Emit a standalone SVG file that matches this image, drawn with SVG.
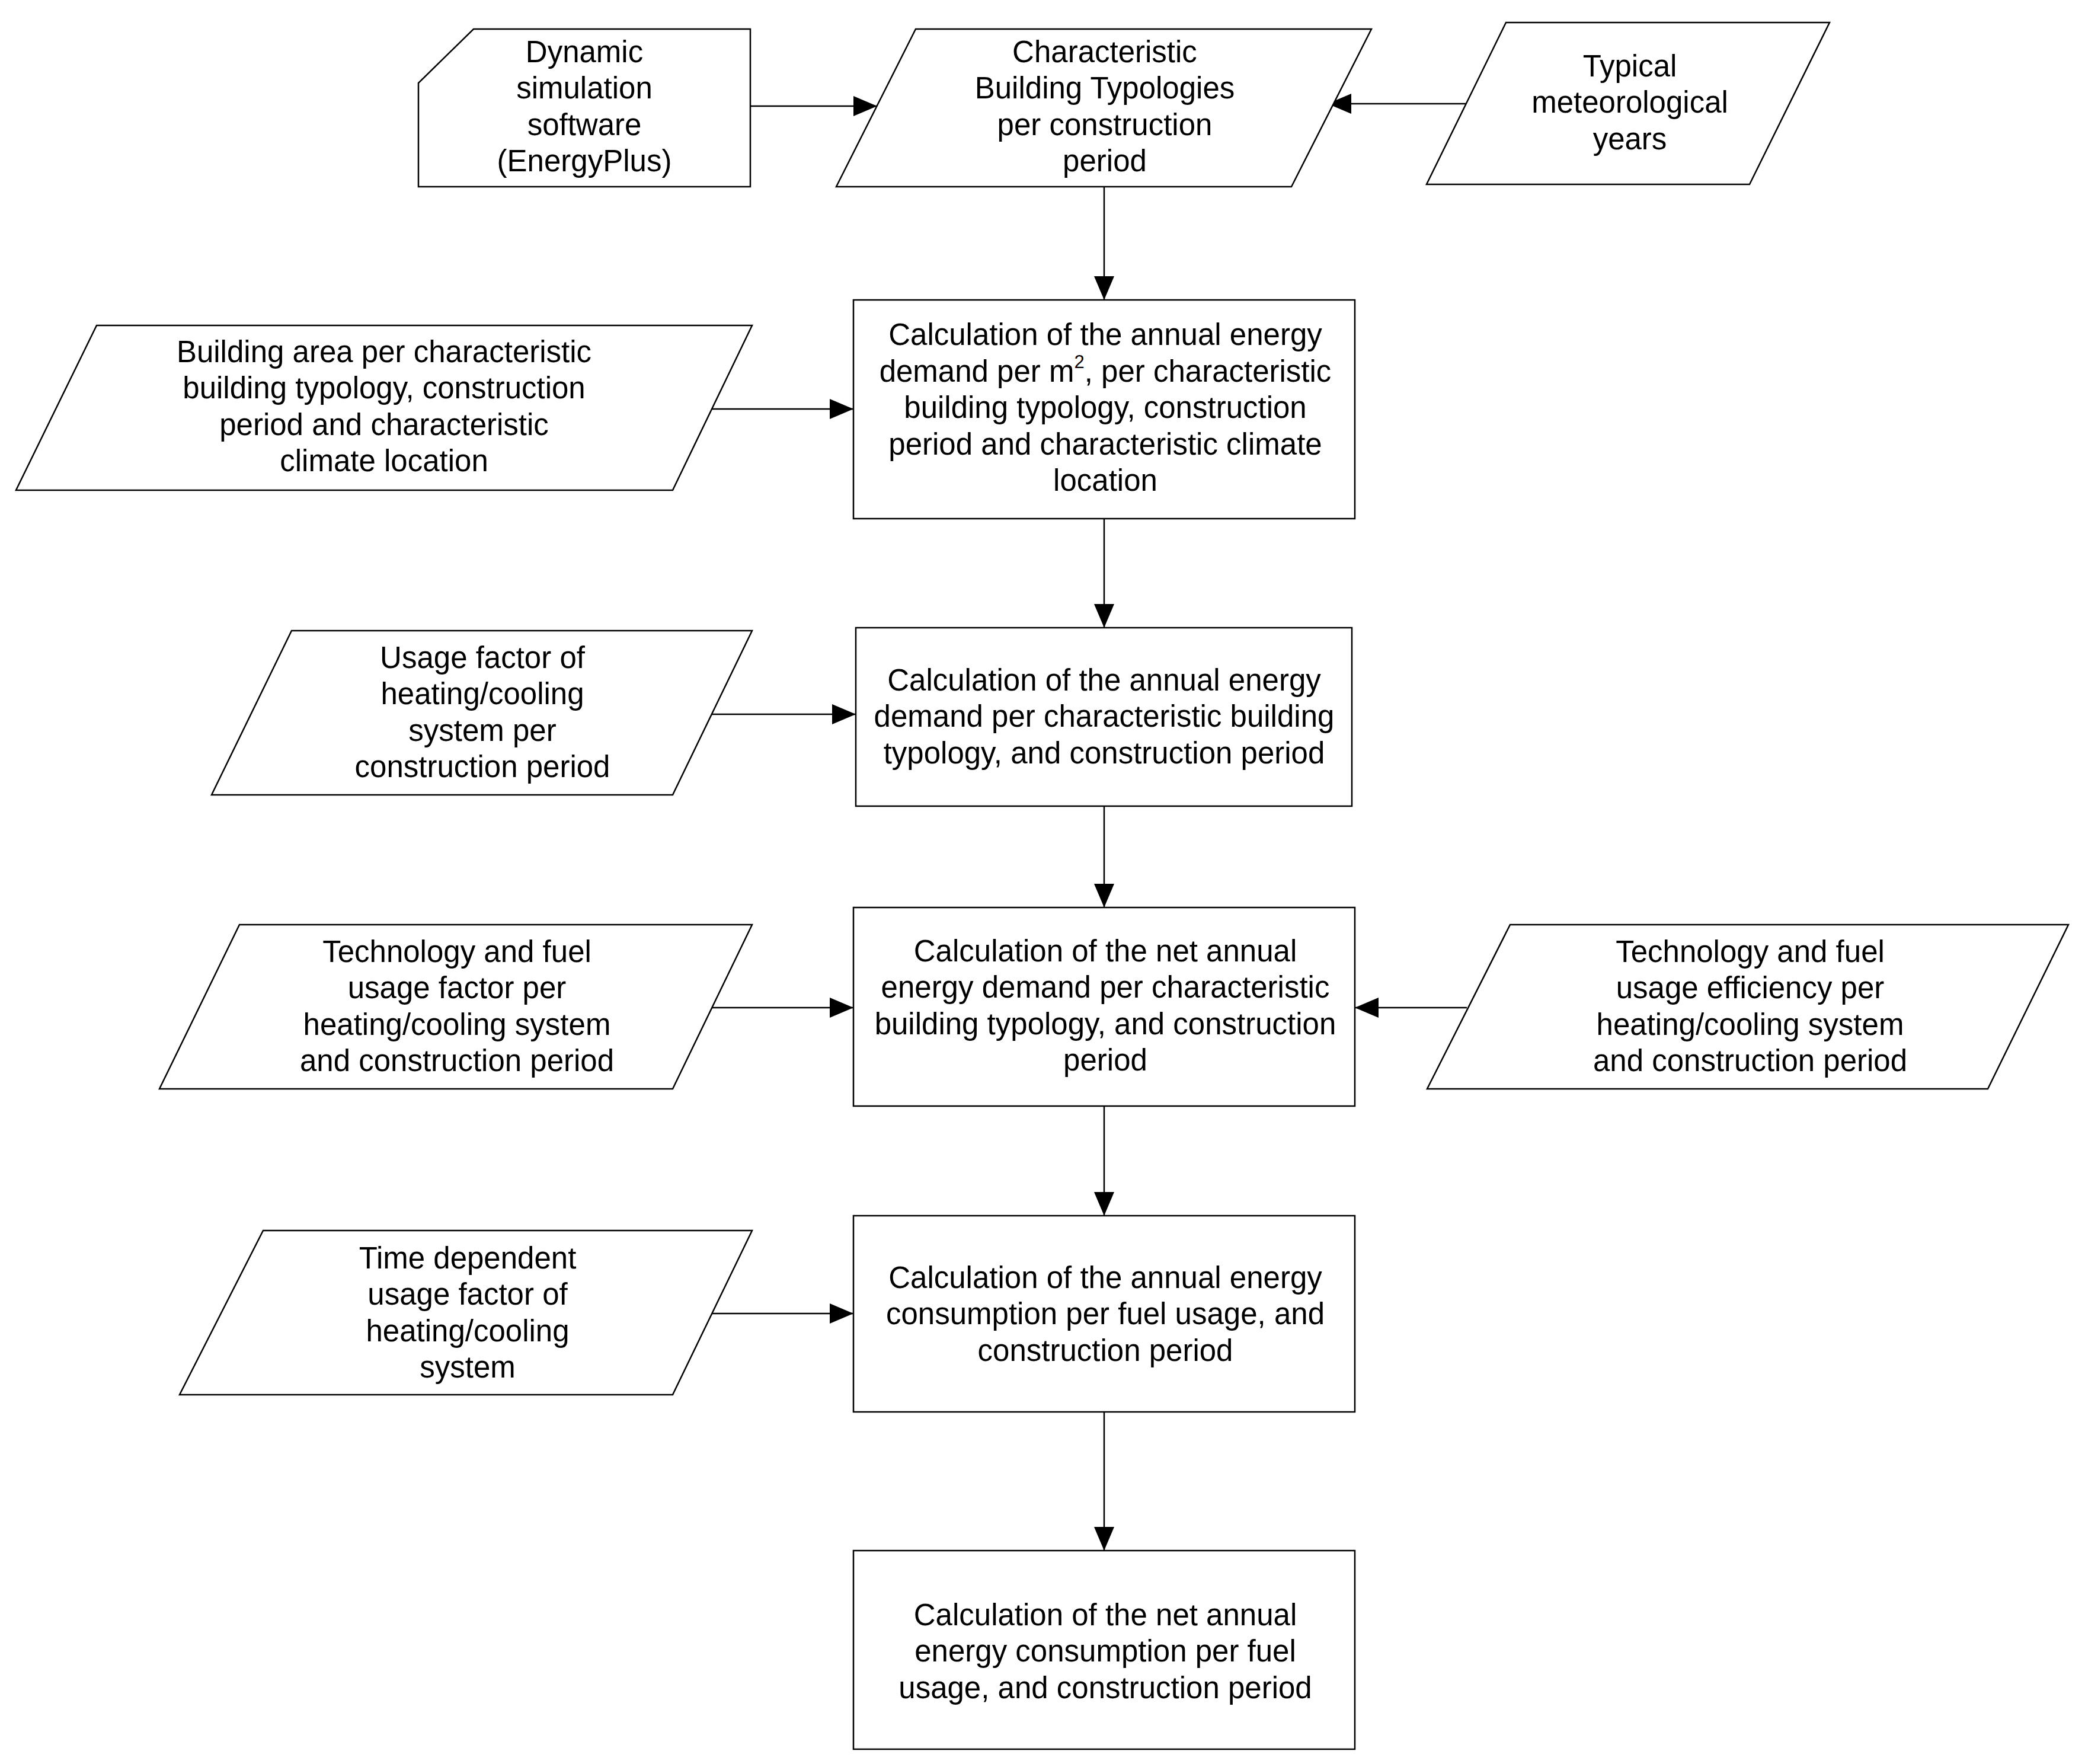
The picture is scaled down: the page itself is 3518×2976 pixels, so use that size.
<svg xmlns="http://www.w3.org/2000/svg" width="3518" height="2976" viewBox="0 0 3518 2976">
<style>
.s{fill:#fff;stroke:#000;stroke-width:2.5}
.c{fill:none;stroke:#000;stroke-width:2.5}
text{font-family:"Liberation Sans",Arial,sans-serif;font-size:51px;fill:#000;text-anchor:middle}
</style>
<defs>
<marker id="ah" markerUnits="userSpaceOnUse" markerWidth="40" markerHeight="34" viewBox="0 0 40 34" refX="40" refY="17" orient="auto">
<path d="M0,0 L40,17 L0,34 Z" fill="#000"/>
</marker>
</defs>
<rect width="3518" height="2976" fill="#fff"/>
<g id="connectors">
<line class="c" x1="1266" y1="179" x2="1480" y2="179" marker-end="url(#ah)"/>
<line class="c" x1="2474" y1="175" x2="2240" y2="175" marker-end="url(#ah)"/>
<line class="c" x1="1863" y1="315" x2="1863" y2="506" marker-end="url(#ah)"/>
<line class="c" x1="1201" y1="690" x2="1440" y2="690" marker-end="url(#ah)"/>
<line class="c" x1="1863" y1="875" x2="1863" y2="1059" marker-end="url(#ah)"/>
<line class="c" x1="1201" y1="1205" x2="1444" y2="1205" marker-end="url(#ah)"/>
<line class="c" x1="1863" y1="1360" x2="1863" y2="1531" marker-end="url(#ah)"/>
<line class="c" x1="1201" y1="1700" x2="1440" y2="1700" marker-end="url(#ah)"/>
<line class="c" x1="2475" y1="1700" x2="2286" y2="1700" marker-end="url(#ah)"/>
<line class="c" x1="1863" y1="1866" x2="1863" y2="2051" marker-end="url(#ah)"/>
<line class="c" x1="1201" y1="2216" x2="1440" y2="2216" marker-end="url(#ah)"/>
<line class="c" x1="1863" y1="2382" x2="1863" y2="2616" marker-end="url(#ah)"/>
</g>
<g id="dynamic">
<path class="s" d="M799,49 L1266,49 L1266,315 L706,315 L706,140 Z"/>
<text x="986" y="105">Dynamic</text>
<text x="986" y="166">simulation</text>
<text x="986" y="228">software</text>
<text x="986" y="289">(EnergyPlus)</text>
</g>
<g id="characteristic">
<path class="s" d="M1545,49 L2314,49 L2179,315 L1411,315 Z"/>
<text x="1864" y="105">Characteristic</text>
<text x="1864" y="166">Building Typologies</text>
<text x="1864" y="228">per construction</text>
<text x="1864" y="289">period</text>
</g>
<g id="typical">
<path class="s" d="M2541,38 L3087,38 L2952,311 L2407,311 Z"/>
<text x="2750" y="129">Typical</text>
<text x="2750" y="190">meteorological</text>
<text x="2750" y="252">years</text>
</g>
<g id="calc1">
<rect class="s" x="1440" y="506" width="846" height="369"/>
<text x="1865" y="582">Calculation of the annual energy</text>
<text x="1865" y="644">demand per m<tspan font-size="31" dy="-23">2</tspan><tspan dy="23">, per characteristic</tspan></text>
<text x="1865" y="705">building typology, construction</text>
<text x="1865" y="767">period and characteristic climate</text>
<text x="1865" y="828">location</text>
</g>
<g id="building-area">
<path class="s" d="M163,549 L1269,549 L1135,827 L27,827 Z"/>
<text x="648" y="611">Building area per characteristic</text>
<text x="648" y="672">building typology, construction</text>
<text x="648" y="734">period and characteristic</text>
<text x="648" y="795">climate location</text>
</g>
<g id="usage-factor">
<path class="s" d="M492,1064 L1269,1064 L1135,1341 L357,1341 Z"/>
<text x="814" y="1127">Usage factor of</text>
<text x="814" y="1188">heating/cooling</text>
<text x="814" y="1250">system per</text>
<text x="814" y="1311">construction period</text>
</g>
<g id="calc2">
<rect class="s" x="1444" y="1059" width="837" height="301"/>
<text x="1863" y="1165">Calculation of the annual energy</text>
<text x="1863" y="1226">demand per characteristic building</text>
<text x="1863" y="1288">typology, and construction period</text>
</g>
<g id="tech-left">
<path class="s" d="M404,1560 L1269,1560 L1135,1837 L269,1837 Z"/>
<text x="771" y="1623">Technology and fuel</text>
<text x="771" y="1684">usage factor per</text>
<text x="771" y="1746">heating/cooling system</text>
<text x="771" y="1807">and construction period</text>
</g>
<g id="calc3">
<rect class="s" x="1440" y="1531" width="846" height="335"/>
<text x="1865" y="1622">Calculation of the net annual</text>
<text x="1865" y="1683">energy demand per characteristic</text>
<text x="1865" y="1745">building typology, and construction</text>
<text x="1865" y="1806">period</text>
</g>
<g id="tech-right">
<path class="s" d="M2548,1560 L3490,1560 L3354,1837 L2408,1837 Z"/>
<text x="2953" y="1623">Technology and fuel</text>
<text x="2953" y="1684">usage efficiency per</text>
<text x="2953" y="1746">heating/cooling system</text>
<text x="2953" y="1807">and construction period</text>
</g>
<g id="time-dependent">
<path class="s" d="M444,2076 L1269,2076 L1135,2353 L303,2353 Z"/>
<text x="789" y="2140">Time dependent</text>
<text x="789" y="2201">usage factor of</text>
<text x="789" y="2263">heating/cooling</text>
<text x="789" y="2324">system</text>
</g>
<g id="calc4">
<rect class="s" x="1440" y="2051" width="846" height="331"/>
<text x="1865" y="2173">Calculation of the annual energy</text>
<text x="1865" y="2234">consumption per fuel usage, and</text>
<text x="1865" y="2296">construction period</text>
</g>
<g id="calc5">
<rect class="s" x="1440" y="2616" width="846" height="335"/>
<text x="1865" y="2742">Calculation of the net annual</text>
<text x="1865" y="2803">energy consumption per fuel</text>
<text x="1865" y="2865">usage, and construction period</text>
</g>
</svg>
